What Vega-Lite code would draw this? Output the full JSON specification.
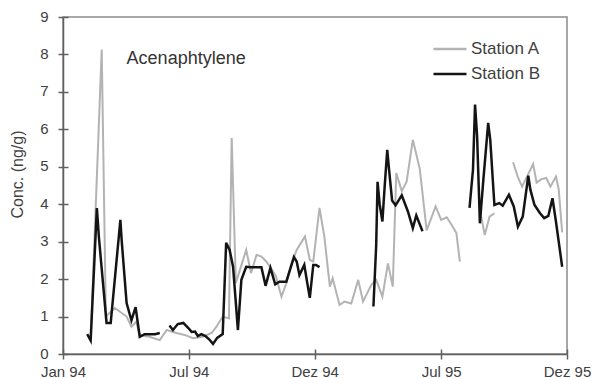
{
  "$schema": "https://vega.github.io/schema/vega-lite/v6.json",
  "autosize": "none",
  "width": 504,
  "height": 337,
  "padding": {"left": 63, "top": 17, "right": 27, "bottom": 24},
  "background": "white",
  "config": {
    "view": {"stroke": "#8a8a8a", "strokeWidth": 1.5},
    "font": "Liberation Sans",
    "axis": {
      "domainColor": "#606060", "domainWidth": 1.5, "tickColor": "#606060", "tickWidth": 1.5,
      "labelColor": "#404040", "labelFontSize": 15, "labelFont": "Liberation Sans",
      "titleColor": "#404040", "titleFont": "Liberation Sans", "titleFontWeight": "normal",
      "grid": false, "labelOverlap": false
    }
  },
  "resolve": {"axis": {"x": "independent", "y": "independent"}},
  "datasets": {
    "pts": [
      {"d":"1994-02-10","v":0.4,"s":"Station A","g":"A1"},
      {"d":"1994-02-26","v":8.13,"s":"Station A","g":"A1"},
      {"d":"1994-03-04","v":1.0,"s":"Station A","g":"A1"},
      {"d":"1994-03-17","v":1.23,"s":"Station A","g":"A1"},
      {"d":"1994-04-03","v":1.0,"s":"Station A","g":"A1"},
      {"d":"1994-04-10","v":0.73,"s":"Station A","g":"A1"},
      {"d":"1994-04-17","v":0.86,"s":"Station A","g":"A1"},
      {"d":"1994-04-22","v":0.5,"s":"Station A","g":"A1"},
      {"d":"1994-05-06","v":0.46,"s":"Station A","g":"A1"},
      {"d":"1994-05-21","v":0.37,"s":"Station A","g":"A1"},
      {"d":"1994-05-31","v":0.64,"s":"Station A","g":"A1"},
      {"d":"1994-06-07","v":0.6,"s":"Station A","g":"A1"},
      {"d":"1994-06-14","v":0.56,"s":"Station A","g":"A1"},
      {"d":"1994-06-26","v":0.51,"s":"Station A","g":"A1"},
      {"d":"1994-07-08","v":0.42,"s":"Station A","g":"A1"},
      {"d":"1994-07-22","v":0.46,"s":"Station A","g":"A1"},
      {"d":"1994-08-04","v":0.56,"s":"Station A","g":"A1"},
      {"d":"1994-08-11","v":0.73,"s":"Station A","g":"A1"},
      {"d":"1994-08-20","v":1.0,"s":"Station A","g":"A1"},
      {"d":"1994-08-29","v":0.95,"s":"Station A","g":"A1"},
      {"d":"1994-09-02","v":5.77,"s":"Station A","g":"A1"},
      {"d":"1994-09-08","v":1.9,"s":"Station A","g":"A1"},
      {"d":"1994-09-23","v":2.78,"s":"Station A","g":"A1"},
      {"d":"1994-09-30","v":2.16,"s":"Station A","g":"A1"},
      {"d":"1994-10-08","v":2.65,"s":"Station A","g":"A1"},
      {"d":"1994-10-15","v":2.6,"s":"Station A","g":"A1"},
      {"d":"1994-10-22","v":2.47,"s":"Station A","g":"A1"},
      {"d":"1994-10-29","v":2.29,"s":"Station A","g":"A1"},
      {"d":"1994-11-05","v":2.07,"s":"Station A","g":"A1"},
      {"d":"1994-11-13","v":1.53,"s":"Station A","g":"A1"},
      {"d":"1994-11-20","v":1.89,"s":"Station A","g":"A1"},
      {"d":"1994-11-27","v":2.38,"s":"Station A","g":"A1"},
      {"d":"1994-12-05","v":2.78,"s":"Station A","g":"A1"},
      {"d":"1994-12-17","v":3.14,"s":"Station A","g":"A1"},
      {"d":"1994-12-24","v":2.51,"s":"Station A","g":"A1"},
      {"d":"1994-12-29","v":2.47,"s":"Station A","g":"A1"},
      {"d":"1995-01-07","v":3.9,"s":"Station A","g":"A1"},
      {"d":"1995-01-14","v":3.14,"s":"Station A","g":"A1"},
      {"d":"1995-01-22","v":1.8,"s":"Station A","g":"A1"},
      {"d":"1995-01-26","v":2.02,"s":"Station A","g":"A1"},
      {"d":"1995-02-05","v":1.31,"s":"Station A","g":"A1"},
      {"d":"1995-02-12","v":1.4,"s":"Station A","g":"A1"},
      {"d":"1995-02-22","v":1.35,"s":"Station A","g":"A1"},
      {"d":"1995-03-04","v":1.98,"s":"Station A","g":"A1"},
      {"d":"1995-03-11","v":1.4,"s":"Station A","g":"A1"},
      {"d":"1995-03-23","v":1.85,"s":"Station A","g":"A1"},
      {"d":"1995-03-30","v":1.98,"s":"Station A","g":"A1"},
      {"d":"1995-04-08","v":1.53,"s":"Station A","g":"A1"},
      {"d":"1995-04-16","v":2.42,"s":"Station A","g":"A1"},
      {"d":"1995-04-23","v":1.8,"s":"Station A","g":"A1"},
      {"d":"1995-04-28","v":4.83,"s":"Station A","g":"A1"},
      {"d":"1995-05-06","v":4.35,"s":"Station A","g":"A1"},
      {"d":"1995-05-13","v":4.6,"s":"Station A","g":"A1"},
      {"d":"1995-05-22","v":5.72,"s":"Station A","g":"A1"},
      {"d":"1995-06-01","v":4.95,"s":"Station A","g":"A1"},
      {"d":"1995-06-11","v":3.3,"s":"Station A","g":"A1"},
      {"d":"1995-06-24","v":3.94,"s":"Station A","g":"A1"},
      {"d":"1995-07-02","v":3.58,"s":"Station A","g":"A1"},
      {"d":"1995-07-10","v":3.65,"s":"Station A","g":"A1"},
      {"d":"1995-07-17","v":3.45,"s":"Station A","g":"A1"},
      {"d":"1995-07-24","v":3.23,"s":"Station A","g":"A1"},
      {"d":"1995-07-29","v":2.47,"s":"Station A","g":"A1"},
      {"d":"1995-08-27","v":3.85,"s":"Station A","g":"A2"},
      {"d":"1995-09-03","v":3.18,"s":"Station A","g":"A2"},
      {"d":"1995-09-10","v":3.67,"s":"Station A","g":"A2"},
      {"d":"1995-09-17","v":3.76,"s":"Station A","g":"A2"},
      {"d":"1995-10-14","v":5.12,"s":"Station A","g":"A3"},
      {"d":"1995-10-21","v":4.72,"s":"Station A","g":"A3"},
      {"d":"1995-10-27","v":4.47,"s":"Station A","g":"A3"},
      {"d":"1995-11-12","v":5.07,"s":"Station A","g":"A3"},
      {"d":"1995-11-17","v":4.58,"s":"Station A","g":"A3"},
      {"d":"1995-11-24","v":4.67,"s":"Station A","g":"A3"},
      {"d":"1995-12-01","v":4.7,"s":"Station A","g":"A3"},
      {"d":"1995-12-07","v":4.47,"s":"Station A","g":"A3"},
      {"d":"1995-12-15","v":4.74,"s":"Station A","g":"A3"},
      {"d":"1995-12-19","v":4.4,"s":"Station A","g":"A3"},
      {"d":"1995-12-24","v":3.25,"s":"Station A","g":"A3"},
      {"d":"1994-02-05","v":0.53,"s":"Station B","g":"B1"},
      {"d":"1994-02-10","v":0.36,"s":"Station B","g":"B1"},
      {"d":"1994-02-19","v":3.9,"s":"Station B","g":"B1"},
      {"d":"1994-02-22","v":3.1,"s":"Station B","g":"B1"},
      {"d":"1994-03-05","v":0.83,"s":"Station B","g":"B1"},
      {"d":"1994-03-11","v":0.83,"s":"Station B","g":"B1"},
      {"d":"1994-03-25","v":3.58,"s":"Station B","g":"B1"},
      {"d":"1994-03-27","v":3.0,"s":"Station B","g":"B1"},
      {"d":"1994-04-03","v":1.36,"s":"Station B","g":"B1"},
      {"d":"1994-04-10","v":0.9,"s":"Station B","g":"B1"},
      {"d":"1994-04-16","v":1.25,"s":"Station B","g":"B1"},
      {"d":"1994-04-22","v":0.46,"s":"Station B","g":"B1"},
      {"d":"1994-04-29","v":0.53,"s":"Station B","g":"B1"},
      {"d":"1994-05-14","v":0.53,"s":"Station B","g":"B1"},
      {"d":"1994-05-21","v":0.56,"s":"Station B","g":"B1"},
      {"d":"1994-06-04","v":0.76,"s":"Station B","g":"B2"},
      {"d":"1994-06-09","v":0.64,"s":"Station B","g":"B2"},
      {"d":"1994-06-16","v":0.8,"s":"Station B","g":"B2"},
      {"d":"1994-06-24","v":0.83,"s":"Station B","g":"B2"},
      {"d":"1994-07-01","v":0.7,"s":"Station B","g":"B2"},
      {"d":"1994-07-06","v":0.59,"s":"Station B","g":"B2"},
      {"d":"1994-07-11","v":0.6,"s":"Station B","g":"B2"},
      {"d":"1994-07-15","v":0.48,"s":"Station B","g":"B2"},
      {"d":"1994-07-20","v":0.53,"s":"Station B","g":"B2"},
      {"d":"1994-07-26","v":0.48,"s":"Station B","g":"B2"},
      {"d":"1994-07-31","v":0.4,"s":"Station B","g":"B2"},
      {"d":"1994-08-06","v":0.27,"s":"Station B","g":"B2"},
      {"d":"1994-08-12","v":0.43,"s":"Station B","g":"B2"},
      {"d":"1994-08-20","v":0.53,"s":"Station B","g":"B2"},
      {"d":"1994-08-25","v":2.97,"s":"Station B","g":"B2"},
      {"d":"1994-08-30","v":2.78,"s":"Station B","g":"B2"},
      {"d":"1994-09-04","v":2.33,"s":"Station B","g":"B2"},
      {"d":"1994-09-11","v":0.64,"s":"Station B","g":"B2"},
      {"d":"1994-09-16","v":1.98,"s":"Station B","g":"B2"},
      {"d":"1994-09-23","v":2.33,"s":"Station B","g":"B2"},
      {"d":"1994-09-30","v":2.32,"s":"Station B","g":"B2"},
      {"d":"1994-10-10","v":2.32,"s":"Station B","g":"B2"},
      {"d":"1994-10-15","v":2.32,"s":"Station B","g":"B2"},
      {"d":"1994-10-21","v":1.82,"s":"Station B","g":"B2"},
      {"d":"1994-10-28","v":2.3,"s":"Station B","g":"B2"},
      {"d":"1994-11-04","v":1.86,"s":"Station B","g":"B2"},
      {"d":"1994-11-10","v":1.93,"s":"Station B","g":"B2"},
      {"d":"1994-11-20","v":1.93,"s":"Station B","g":"B2"},
      {"d":"1994-12-01","v":2.59,"s":"Station B","g":"B2"},
      {"d":"1994-12-05","v":2.47,"s":"Station B","g":"B2"},
      {"d":"1994-12-09","v":2.11,"s":"Station B","g":"B2"},
      {"d":"1994-12-16","v":2.38,"s":"Station B","g":"B2"},
      {"d":"1994-12-20","v":1.93,"s":"Station B","g":"B2"},
      {"d":"1994-12-24","v":1.5,"s":"Station B","g":"B2"},
      {"d":"1994-12-29","v":2.38,"s":"Station B","g":"B2"},
      {"d":"1995-01-02","v":2.38,"s":"Station B","g":"B2"},
      {"d":"1995-01-07","v":2.32,"s":"Station B","g":"B2"},
      {"d":"1995-03-26","v":1.27,"s":"Station B","g":"B3"},
      {"d":"1995-03-30","v":2.9,"s":"Station B","g":"B3"},
      {"d":"1995-04-01","v":4.6,"s":"Station B","g":"B3"},
      {"d":"1995-04-04","v":4.0,"s":"Station B","g":"B3"},
      {"d":"1995-04-08","v":3.54,"s":"Station B","g":"B3"},
      {"d":"1995-04-11","v":4.4,"s":"Station B","g":"B3"},
      {"d":"1995-04-15","v":5.45,"s":"Station B","g":"B3"},
      {"d":"1995-04-18","v":4.85,"s":"Station B","g":"B3"},
      {"d":"1995-04-22","v":4.1,"s":"Station B","g":"B3"},
      {"d":"1995-04-27","v":3.97,"s":"Station B","g":"B3"},
      {"d":"1995-05-06","v":4.24,"s":"Station B","g":"B3"},
      {"d":"1995-05-15","v":3.8,"s":"Station B","g":"B3"},
      {"d":"1995-05-22","v":3.36,"s":"Station B","g":"B3"},
      {"d":"1995-05-27","v":3.7,"s":"Station B","g":"B3"},
      {"d":"1995-06-05","v":3.28,"s":"Station B","g":"B3"},
      {"d":"1995-08-12","v":3.9,"s":"Station B","g":"B4"},
      {"d":"1995-08-17","v":4.92,"s":"Station B","g":"B4"},
      {"d":"1995-08-20","v":6.66,"s":"Station B","g":"B4"},
      {"d":"1995-08-23","v":5.81,"s":"Station B","g":"B4"},
      {"d":"1995-08-27","v":3.49,"s":"Station B","g":"B4"},
      {"d":"1995-09-01","v":4.65,"s":"Station B","g":"B4"},
      {"d":"1995-09-08","v":6.17,"s":"Station B","g":"B4"},
      {"d":"1995-09-11","v":5.72,"s":"Station B","g":"B4"},
      {"d":"1995-09-17","v":3.98,"s":"Station B","g":"B4"},
      {"d":"1995-09-24","v":4.03,"s":"Station B","g":"B4"},
      {"d":"1995-09-29","v":3.96,"s":"Station B","g":"B4"},
      {"d":"1995-10-08","v":4.25,"s":"Station B","g":"B4"},
      {"d":"1995-10-15","v":3.94,"s":"Station B","g":"B4"},
      {"d":"1995-10-21","v":3.4,"s":"Station B","g":"B4"},
      {"d":"1995-10-28","v":3.67,"s":"Station B","g":"B4"},
      {"d":"1995-11-05","v":4.76,"s":"Station B","g":"B4"},
      {"d":"1995-11-08","v":4.39,"s":"Station B","g":"B4"},
      {"d":"1995-11-14","v":3.98,"s":"Station B","g":"B4"},
      {"d":"1995-11-22","v":3.76,"s":"Station B","g":"B4"},
      {"d":"1995-11-28","v":3.63,"s":"Station B","g":"B4"},
      {"d":"1995-12-04","v":3.69,"s":"Station B","g":"B4"},
      {"d":"1995-12-10","v":4.16,"s":"Station B","g":"B4"},
      {"d":"1995-12-15","v":3.54,"s":"Station B","g":"B4"},
      {"d":"1995-12-24","v":2.33,"s":"Station B","g":"B4"}
    ],
    "label": [{"d":"1994-04-03","v":7.88,"t":"Acenaphtylene"}]
  },
  "layer": [
    {
      "data": {"name": "pts"},
      "transform": [{"filter": "datum.s === 'Station A'"}],
      "mark": {"type": "line", "strokeWidth": 2, "clip": true},
      "encoding": {
        "x": {"field": "d", "type": "temporal",
          "scale": {"type": "utc", "domain": [{"year":1994,"month":1,"date":1,"utc":true},{"year":1995,"month":12,"date":31,"utc":true}]},
          "axis": {"title": null, "labelFlush": false, "tickSize": 5, "labelPadding": 5, "orient": "bottom",
            "values": [{"year":1994,"month":1,"date":1,"utc":true},{"year":1994,"month":7,"date":2,"utc":true},{"year":1994,"month":12,"date":31,"utc":true},{"year":1995,"month":7,"date":2,"utc":true},{"year":1995,"month":12,"date":31,"utc":true}],
            "labelExpr": "replace(utcFormat(datum.value, '%b %y'), 'Dec', 'Dez')"}},
        "y": {"field": "v", "type": "quantitative",
          "scale": {"domain": [0, 9], "nice": false},
          "axis": {"title": "Conc. (ng/g)", "titleFontSize": 16, "titlePadding": 14, "titleY": 157, "orient": "left",
            "values": [0,1,2,3,4,5,6,7,8,9], "tickSize": 5, "labelPadding": 10, "labelBaseline": "bottom", "labelOffset": 7}},
        "color": {"field": "s", "type": "nominal",
          "scale": {"domain": ["Station A", "Station B"], "range": ["#b3b3b3", "#141414"]},
          "legend": {"title": null, "orient": "none", "legendX": 369, "legendY": 22,
            "symbolType": "stroke", "symbolSize": 1089, "symbolStrokeWidth": 2.5,
            "labelFontSize": 17, "labelFont": "Liberation Sans", "labelColor": "#404040",
            "labelOffset": 3, "clipHeight": 20, "rowPadding": 5}},
        "detail": {"field": "g"}
      }
    },
    {
      "data": {"name": "pts"},
      "transform": [{"filter": "datum.s === 'Station B'"}],
      "mark": {"type": "line", "strokeWidth": 2.5, "clip": true},
      "encoding": {
        "x": {"field": "d", "type": "temporal", "axis": null},
        "y": {"field": "v", "type": "quantitative", "axis": null},
        "color": {"field": "s", "type": "nominal"},
        "detail": {"field": "g"}
      }
    },
    {
      "data": {"name": "label"},
      "mark": {"type": "text", "align": "left", "baseline": "middle", "fontSize": 18, "font": "Liberation Sans", "color": "#333333"},
      "encoding": {
        "x": {"field": "d", "type": "temporal",
          "axis": {"orient": "bottom", "title": null, "labels": false, "domain": false, "tickSize": -5,
            "values": [{"year":1994,"month":1,"date":1,"utc":true},{"year":1994,"month":7,"date":2,"utc":true},{"year":1994,"month":12,"date":31,"utc":true},{"year":1995,"month":7,"date":2,"utc":true},{"year":1995,"month":12,"date":31,"utc":true}]}},
        "y": {"field": "v", "type": "quantitative",
          "axis": {"orient": "left", "title": null, "labels": false, "domain": false, "tickSize": -5, "values": [0,1,2,3,4,5,6,7,8,9]}},
        "text": {"field": "t"}
      }
    }
  ]
}
